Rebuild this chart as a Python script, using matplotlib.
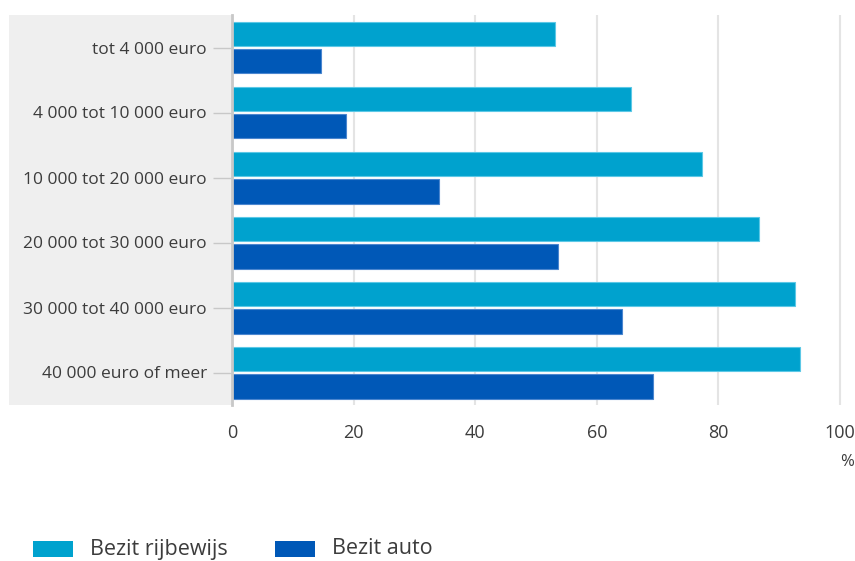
import matplotlib
matplotlib.use("Agg")
import matplotlib.pyplot as plt
from matplotlib.patches import Rectangle
import numpy as np

plt.rcParams['font.family'] = ['Open Sans', 'DejaVu Sans']

categories = ["tot 4 000 euro", "4 000 tot 10 000 euro", "10 000 tot 20 000 euro",
              "20 000 tot 30 000 euro", "30 000 tot 40 000 euro", "40 000 euro of meer"]
rijbewijs = [53.1, 65.7, 77.3, 86.7, 92.6, 93.4]
auto = [14.6, 18.8, 34.0, 53.6, 64.1, 69.2]
xticks = [0, 20, 40, 60, 80, 100]
series_names = ["Bezit rijbewijs", "Bezit auto"]

c_rij = "#00A2CE"
c_auto = "#0058B7"
text_col = "#3C3C3C"

W, H = 855, 561
fig = plt.figure(figsize=(W / 100, H / 100), dpi=100)

# grey band behind the category labels
fig.patches.append(Rectangle((9 / W, 1 - 405 / H), (232 - 9) / W, (405 - 15) / H,
                             transform=fig.transFigure, facecolor="#EFEFEF",
                             edgecolor="none", zorder=-5))

x0 = 232
unit = 6.08
xmax = 101
ax = fig.add_axes([x0 / W, 1 - 405 / H, xmax * unit / W, (405 - 15) / H])
ax.set_zorder(2)
ax.patch.set_alpha(0)

y = np.arange(len(categories))
h = 0.37
off = 0.215
ax.barh(y - off, rijbewijs, height=h, color=c_rij, edgecolor="#5CC8E6", linewidth=0.8, zorder=3)
ax.barh(y + off, auto, height=h, color=c_auto, edgecolor="#4A86CF", linewidth=0.8, zorder=3)

ax.set_xlim(0, xmax)
ax.set_ylim(len(categories) - 0.5, -0.5)
ax.set_yticks(y)
ax.set_yticklabels(categories, fontsize=12.5, color=text_col)
ax.set_xticks(xticks)
ax.set_xticklabels([str(v) for v in xticks], fontsize=13, color=text_col)
ax.tick_params(axis='y', length=14, width=1, color="#C8C8C8", pad=4)
ax.tick_params(axis='x', length=0, pad=14)
ax.grid(axis='x', color="#E4E4E4", linewidth=1.5, zorder=0)
ax.set_axisbelow(True)
for s in ["top", "right", "bottom"]:
    ax.spines[s].set_visible(False)
ax.spines["left"].set_color("#C8C8C8")
ax.spines["left"].set_linewidth(2)
ax.spines["left"].set_zorder(4)

fig.text(854 / W, 1 - 462 / H, "%", ha="right", va="center", fontsize=12, color=text_col)

# legend
fig.patches.append(Rectangle((33 / W, 1 - 557 / H), 40 / W, 16 / H, transform=fig.transFigure,
                             facecolor=c_rij, edgecolor="none"))
fig.text(90 / W, 1 - 549 / H, series_names[0], ha="left", va="center", fontsize=15.5, color=text_col)
fig.patches.append(Rectangle((275 / W, 1 - 557 / H), 40 / W, 16 / H, transform=fig.transFigure,
                             facecolor=c_auto, edgecolor="none"))
fig.text(332 / W, 1 - 549 / H, series_names[1], ha="left", va="center", fontsize=15.5, color=text_col)

fig.savefig("out.png", dpi=100)
